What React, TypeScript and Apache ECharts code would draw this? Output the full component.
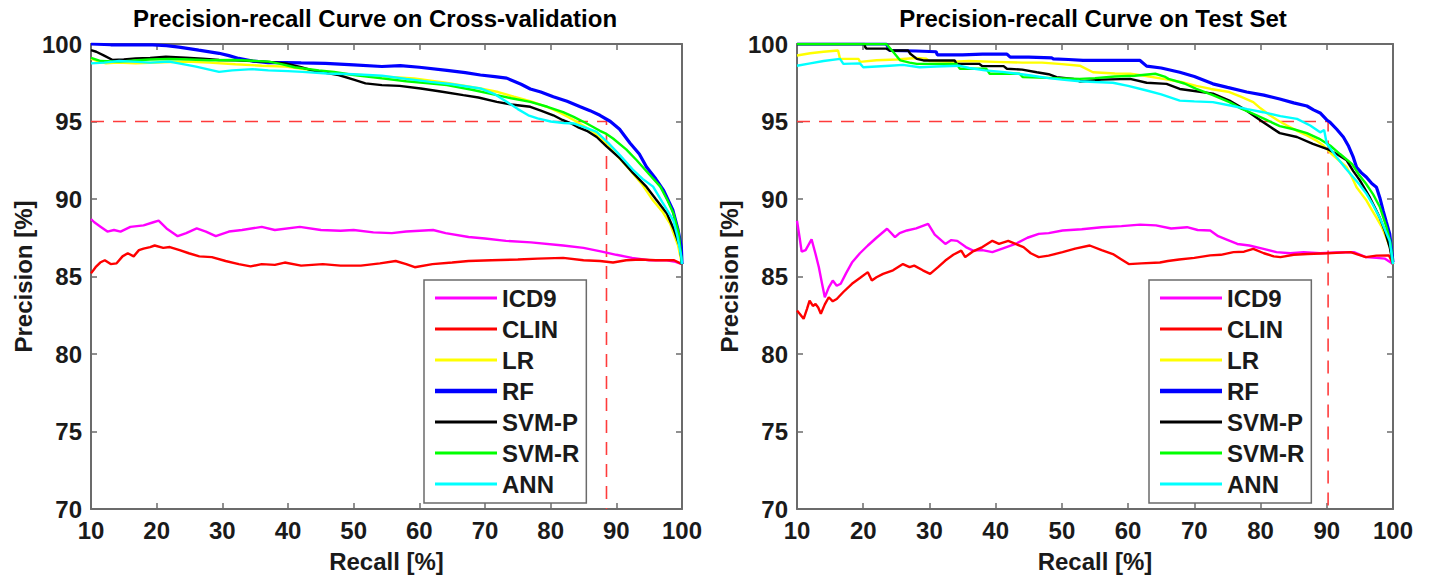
import React, { useEffect, useRef } from "react";
import * as echarts from "echarts";

// ---------- DATA ----------
const seriesNames = ["ICD9", "CLIN", "LR", "RF", "SVM-P", "SVM-R", "ANN"];
const seriesColors = ["#ff00ff", "#ff0000", "#ffff00", "#0000ff", "#000000", "#00ff00", "#00ffff"];
const xTicks = { min: 10, max: 100, interval: 10 };
const yTicks = { min: 70, max: 100, interval: 5 };

// Cross-validation curves: [recall %, precision %]
const cvICD9 = [[10,88.7],[10.5,88.5],[11.5,88.2],[12.5,87.9],[13.5,88.0],[14.5,87.9],[16,88.2],[18,88.3],[19.5,88.5],[20.3,88.6],[21.5,88.1],[23.2,87.6],[24.5,87.8],[26.1,88.1],[27.5,87.9],[29,87.6],[31,87.9],[33,88.0],[36,88.2],[38,88.0],[41.8,88.2],[45,88.0],[48,87.95],[50,88.0],[53,87.85],[55.8,87.8],[58,87.9],[62.1,88.0],[64,87.8],[67.5,87.55],[70,87.45],[73.2,87.3],[77,87.2],[81.9,87.0],[85,86.85],[87.8,86.6],[90,86.4],[92.4,86.2],[95,86.05],[97.7,86.05],[99,85.95],[100,85.8]];
const cvCLIN = [[10,85.2],[10.7,85.6],[11.4,85.9],[12.1,86.05],[13,85.8],[13.9,85.85],[14.8,86.3],[15.6,86.5],[16.5,86.3],[17.3,86.7],[18,86.8],[19,86.9],[19.7,87.0],[21,86.85],[22,86.9],[23.5,86.7],[24.9,86.5],[26.5,86.3],[28.4,86.25],[30.5,86.0],[32.5,85.8],[34.3,85.65],[36,85.8],[38,85.75],[39.5,85.9],[42,85.7],[45.3,85.8],[48,85.7],[51.1,85.7],[54,85.85],[56.4,86.0],[58,85.8],[59.3,85.6],[62,85.8],[65,85.9],[67.5,86.0],[71,86.05],[75,86.1],[78,86.15],[81.9,86.2],[85,86.05],[87.5,86.0],[89.5,85.9],[91.5,86.05],[93.6,86.1],[96,86.05],[98.8,86.05],[100,85.8]];
const cvLR = [[10,99.05],[11,98.9],[12.3,98.75],[14,98.8],[16.8,98.75],[20,98.8],[24.4,98.86],[28,98.8],[32,98.69],[36,98.6],[39.6,98.54],[43,98.35],[47.2,98.1],[51,98.0],[54.3,97.9],[59.2,97.78],[64,97.5],[69.3,97.13],[72,96.9],[74.4,96.6],[77,96.3],[79.4,95.95],[81.5,95.55],[83.5,95.1],[86.5,94.33],[89.1,93.26],[92.1,91.86],[94,90.9],[95.6,89.9],[97,89.2],[98.2,88.4],[99.4,87.0],[100,85.8]];
const cvRF = [[10,100],[13,99.95],[16,99.95],[19.4,99.94],[21.5,99.9],[23.4,99.8],[26.4,99.6],[29.5,99.4],[31,99.25],[32.5,99.07],[34.6,98.9],[37,98.8],[39.6,98.8],[42,98.78],[45.7,98.75],[50,98.65],[54.3,98.55],[57.1,98.6],[60,98.5],[64.2,98.3],[67,98.15],[69.3,98.0],[71.5,97.9],[73.3,97.8],[75.5,97.4],[76.9,97.1],[78.5,96.9],[80.4,96.6],[82.5,96.3],[84.5,95.95],[86,95.7],[87.5,95.4],[89.1,95.0],[90.5,94.5],[92.1,93.6],[93.5,92.9],[94.6,92.07],[96,91.3],[97.2,90.56],[98.6,89.3],[99.4,88.0],[99.9,86.9],[100,85.8]];
const cvSVMP = [[10,99.6],[10.8,99.5],[12,99.25],[13.3,98.97],[15,99.0],[16.8,99.07],[19,99.1],[21.4,99.18],[24.4,99.12],[27,99.05],[29.5,98.97],[32,98.95],[34.6,98.9],[37,98.85],[39.6,98.75],[42,98.5],[43.7,98.3],[45.5,98.15],[47.7,98.0],[50,97.7],[51.8,97.46],[54.3,97.35],[57,97.3],[60.2,97.13],[63,96.95],[66.7,96.7],[69,96.55],[71.8,96.27],[74,96.1],[76.9,95.95],[78.5,95.7],[80.4,95.4],[81.8,95.1],[83,94.9],[84.3,94.6],[85.5,94.4],[87,94.0],[88.5,93.4],[90.6,92.6],[92.5,91.7],[94.6,90.78],[96,90.0],[97.7,89.06],[98.8,88.0],[99.7,86.9],[100,85.8]];
const cvSVMR = [[10,99.1],[11.5,98.9],[14.3,98.86],[17,98.95],[19,99.0],[21.9,99.03],[25,99.0],[28,98.95],[32,98.97],[34.5,98.92],[37.1,98.86],[39,98.7],[41,98.5],[44.7,98.3],[47,98.2],[50,98.0],[54.3,97.78],[58,97.6],[61,97.48],[64.2,97.35],[68,97.05],[71.8,96.7],[74,96.5],[76.9,96.27],[79.5,95.95],[81.9,95.6],[83.5,95.3],[85.5,94.87],[87.5,94.4],[88.5,94.2],[89.5,93.9],[91.5,93.2],[93.1,92.5],[95,91.6],[96.7,90.8],[97.8,89.9],[98.7,89.06],[99.5,87.8],[100,85.8]];
const cvANN = [[10,98.75],[12,98.8],[14.3,98.9],[17,98.85],[19,98.8],[21.9,98.86],[24,98.7],[26,98.54],[28,98.35],[29.5,98.2],[31.5,98.3],[34.6,98.38],[37,98.3],[40,98.25],[42.2,98.2],[46,98.1],[50,98.05],[54.3,97.95],[58,97.75],[61.7,97.56],[65,97.4],[69.3,97.13],[71.3,96.8],[73.3,96.27],[75,95.8],[76.6,95.4],[78,95.2],[80,95.0],[82,94.9],[83.6,94.87],[85.3,94.6],[87,94.33],[88.8,93.6],[90.6,92.8],[92.5,91.9],[94,91.3],[95.6,90.8],[97,89.8],[98.7,88.6],[99.3,87.6],[99.9,86.25],[100,85.8]];
const cvCutoff = [[10,95],[88.5,95],[88.5,70]];

// Test-set curves: [recall %, precision %]
const tsICD9 = [[10,88.6],[10.4,87.5],[10.7,86.6],[11.3,86.7],[12.2,87.4],[12.8,86.45],[13.3,85.6],[13.8,84.5],[14.2,83.66],[14.8,84.3],[15.4,84.74],[16,84.4],[16.6,84.53],[17.4,85.2],[18.3,85.9],[19.5,86.5],[20.7,87.0],[22,87.5],[23.6,88.08],[24.8,87.54],[25.5,87.8],[26.6,87.97],[28,88.1],[29.2,88.3],[29.8,88.4],[30.8,87.7],[32.4,87.1],[33.3,87.35],[34.2,87.3],[35.5,86.9],[36.6,86.67],[38,86.7],[39.5,86.57],[41,86.8],[43,87.1],[44.8,87.5],[46.5,87.75],[48,87.8],[50.1,87.97],[53,88.05],[56,88.18],[59,88.25],[61.8,88.35],[64.2,88.3],[66.5,88.1],[68.9,88.18],[70.5,88.0],[72.4,87.97],[73.6,87.6],[74.8,87.4],[76.5,87.1],[78.3,87.0],[80.3,86.8],[82.4,86.57],[84.5,86.5],[86.5,86.57],[89,86.5],[91.5,86.55],[94.1,86.57],[95.9,86.25],[97.5,86.2],[98.8,86.15],[100,85.8]];
const tsCLIN = [[10,82.8],[10.4,82.6],[11,82.27],[11.5,82.9],[11.9,83.45],[12.4,83.1],[12.8,83.23],[13.2,83.0],[13.6,82.6],[14.2,83.2],[14.8,83.66],[15.4,83.4],[16,83.55],[17,84.0],[18.3,84.53],[19.5,84.9],[20.7,85.28],[21.3,84.74],[22,84.95],[23,85.17],[24.5,85.4],[26,85.8],[27,85.6],[27.7,85.7],[29,85.4],[30.1,85.17],[31.3,85.6],[32.4,86.03],[33.6,86.4],[34.8,86.67],[35.4,86.25],[36.5,86.6],[38,86.9],[39.5,87.3],[40.5,87.1],[41.9,87.3],[43,87.1],[44.2,86.9],[45.3,86.5],[46.5,86.25],[48,86.35],[50.1,86.57],[52,86.8],[54.2,87.0],[56,86.7],[57.7,86.45],[59,86.1],[60.1,85.8],[62,85.85],[64.8,85.9],[66,86.0],[67.7,86.1],[70,86.2],[72.4,86.36],[74,86.4],[75.9,86.57],[77.5,86.6],[78.9,86.78],[80.5,86.5],[82,86.3],[83,86.25],[85,86.4],[87.1,86.45],[90,86.5],[93.6,86.57],[95.9,86.25],[97.5,86.35],[99.4,86.36],[100,85.8]];
const tsLR = [[10,99.26],[12,99.4],[14,99.5],[16.2,99.58],[16.5,99.04],[19.3,99.04],[19.5,98.85],[22,98.95],[25,99.0],[28,99.1],[29.5,99.05],[30,98.9],[33,98.85],[36,98.9],[40,98.85],[44,98.8],[47,98.8],[50,98.7],[52.7,98.6],[54.7,98.18],[58,98.1],[60.3,98.08],[62.5,97.95],[65.3,97.75],[68,97.55],[70.3,97.3],[72.5,97.1],[75.3,96.9],[77,96.6],[78.9,96.25],[80,95.85],[81.4,95.4],[82.7,95.05],[84,94.74],[85.5,94.4],[87,94.1],[88.3,93.8],[89.5,93.45],[90.5,93.0],[91.8,92.5],[93,92.05],[93.8,91.4],[94.5,90.76],[95.3,90.3],[96,89.9],[96.8,89.3],[97.5,88.8],[98.3,88.2],[99,87.5],[99.6,86.8],[100,85.8]];
const tsRF = [[10,100],[23.5,100],[24,99.58],[28,99.55],[31,99.5],[31.2,99.3],[35,99.3],[38,99.35],[41.7,99.35],[42.2,99.15],[45,99.15],[48.5,99.1],[48.7,99.04],[51,99.0],[53.2,98.94],[57,98.94],[61.8,98.94],[62.8,98.57],[65,98.45],[67.8,98.18],[70,97.9],[72.8,97.43],[75,97.2],[77.9,96.9],[80.5,96.7],[82.9,96.45],[85,96.2],[87,96.0],[88,95.75],[89,95.55],[90,95.1],[90.5,94.95],[91.5,94.5],[92.5,94.0],[93.3,93.4],[94,92.7],[94.5,92.05],[95.2,91.7],[96,91.4],[96.8,91.0],[97.5,90.76],[98,90.1],[98.5,89.26],[99,88.5],[99.5,87.75],[100,85.9]];
const tsSVMP = [[10,100],[20.2,100],[20.3,99.8],[20.5,99.7],[23.5,99.7],[24,99.58],[26.8,99.58],[27.1,99.37],[28.1,99.04],[29.1,98.94],[33.8,98.94],[34.1,98.72],[37.5,98.72],[38,98.57],[41.2,98.57],[41.7,98.4],[44,98.35],[46.2,98.18],[48,98.05],[49.2,97.86],[51.7,97.75],[52.7,97.58],[56,97.7],[60.3,97.75],[62.8,97.5],[65.8,97.43],[67.8,97.1],[70.3,96.95],[72.8,96.8],[75.3,96.35],[77.9,95.7],[80.4,94.95],[82.9,94.25],[85.5,94.0],[87.9,93.56],[90,93.24],[91.5,92.9],[93,92.5],[94,91.8],[95,91.2],[96.5,90.1],[97.2,89.5],[98,88.8],[98.8,87.9],[99.5,86.9],[100,85.8]];
const tsSVMR = [[10,100],[23.5,100],[24.5,99.5],[25.6,98.94],[27,98.8],[28.1,98.72],[34.1,98.72],[34.6,98.4],[38.6,98.4],[39.1,98.08],[43.6,98.08],[44.1,97.86],[52.7,97.75],[55,97.8],[58,97.9],[61,97.95],[64.1,98.08],[65.5,97.9],[66.1,97.75],[68.5,97.45],[70.3,97.1],[72.8,96.7],[75.3,96.25],[77,95.85],[78.9,95.5],[80.9,95.1],[82.9,94.7],[85,94.5],[87,94.25],[88.8,93.9],[90.5,93.45],[92,92.9],[93.8,92.27],[94.8,91.6],[95.9,91.0],[97,90.3],[98,89.5],[99,88.2],[99.6,87.2],[100,85.8]];
const tsANN = [[10,98.6],[12,98.75],[14,98.9],[16.5,99.04],[17,98.72],[19.5,98.75],[20,98.5],[22,98.55],[24,98.6],[26,98.65],[28.5,98.5],[31,98.55],[34.5,98.6],[36,98.45],[38.4,98.3],[41,98.2],[43,98.1],[45.3,97.97],[48,97.8],[50,97.7],[52.7,97.6],[55,97.55],[57.7,97.5],[60,97.3],[62.8,97.0],[65,96.75],[67.8,96.35],[70,96.3],[72.8,96.25],[75.8,96.0],[78,95.8],[80.4,95.6],[83,95.35],[85.5,95.17],[87.5,94.74],[89,94.3],[89.6,94.45],[90,93.56],[91.5,92.7],[92.8,92.0],[94,91.4],[95,90.9],[96,90.33],[97,89.6],[98,88.8],[99,87.8],[99.5,87.3],[100,85.8]];
const tsCutoff = [[10,95],[90.2,95],[90.2,70]];

const cvData = [cvICD9, cvCLIN, cvLR, cvRF, cvSVMP, cvSVMR, cvANN];
const tsData = [tsICD9, tsCLIN, tsLR, tsRF, tsSVMP, tsSVMR, tsANN];
const titles = ["Precision-recall Curve on Cross-validation", "Precision-recall Curve on Test Set"];
const xName = "Recall [%]";
const yName = "Precision [%]";

// ---------- STYLE ----------
const FONT = '"Liberation Sans", Arial, Helvetica, sans-serif';
const AXIS_COLOR = "#6b6b6b";
const TEXT_COLOR = "#1a1a1a";
const grids = [
  { left: 91, top: 44, width: 591, height: 465 },
  { left: 797, top: 44, width: 596, height: 465 },
];
const titleX = [375, 1093];
const legendLeft = [424, 1149];

export default function App() {
  const ref = useRef<HTMLDivElement>(null);

  useEffect(() => {
    document.body.style.margin = "0";
    if (!ref.current) return;
    const chart = echarts.init(ref.current, undefined, { renderer: "svg" });

    const axisLine = { show: true, onZero: false, lineStyle: { color: AXIS_COLOR, width: 2 } };
    const axisTick = { show: true, inside: true, length: 6, lineStyle: { color: AXIS_COLOR, width: 1.5 } };
    const labelStyle = { fontFamily: FONT, fontWeight: "bold" as const, fontSize: 24, color: TEXT_COLOR };

    const xAxis: any[] = [];
    const yAxis: any[] = [];
    grids.forEach((_, gi) => {
      xAxis.push({
        gridIndex: gi, type: "value", position: "bottom", ...xTicks,
        axisLine, axisTick, splitLine: { show: false },
        axisLabel: { ...labelStyle, margin: 9 },
        name: xName, nameLocation: "middle", nameGap: 40,
        nameTextStyle: { ...labelStyle },
      });
      xAxis.push({
        gridIndex: gi, type: "value", position: "top", ...xTicks,
        axisLine, axisTick, splitLine: { show: false }, axisLabel: { show: false },
      });
      yAxis.push({
        gridIndex: gi, type: "value", position: "left", ...yTicks,
        axisLine, axisTick, splitLine: { show: false },
        axisLabel: { ...labelStyle, margin: 9 },
        name: yName, nameLocation: "middle", nameGap: 56,
        nameTextStyle: { ...labelStyle },
      });
      yAxis.push({
        gridIndex: gi, type: "value", position: "right", ...yTicks,
        axisLine, axisTick, splitLine: { show: false }, axisLabel: { show: false },
      });
    });

    const series: any[] = [];
    [cvData, tsData].forEach((set, gi) => {
      set.forEach((d, si) => {
        series.push({
          name: seriesNames[si],
          type: "line",
          xAxisIndex: gi * 2,
          yAxisIndex: gi * 2,
          data: d,
          symbol: "none",
          showSymbol: false,
          lineStyle: { color: seriesColors[si], width: seriesNames[si] === "RF" ? 3.2 : 2.4 },
          itemStyle: { color: seriesColors[si] },
          z: 3 + si,
        });
      });
      series.push({
        name: "cutoff",
        type: "line",
        xAxisIndex: gi * 2,
        yAxisIndex: gi * 2,
        data: gi === 0 ? cvCutoff : tsCutoff,
        symbol: "none",
        lineStyle: { color: "#ff3b3b", width: 1.6, type: [13, 9] },
        itemStyle: { color: "#ff3b3b" },
        z: 2,
      });
    });

    const legendData = seriesNames.map((n) => ({
      name: n,
      icon: n === "RF" ? "path://M0 0H62V4.5H0Z" : "path://M0 0H62V3H0Z",
    }));

    chart.setOption({
      animation: false,
      backgroundColor: "#ffffff",
      grid: grids.map((g) => ({ ...g, containLabel: false })),
      xAxis,
      yAxis,
      legend: legendLeft.map((l) => ({
        left: l,
        top: 280,
        orient: "vertical",
        data: legendData,
        selectedMode: false,
        itemWidth: 62,
        itemHeight: 14,
        itemGap: 7,
        padding: [6, 7, 7, 11],
        borderColor: AXIS_COLOR,
        borderWidth: 1.5,
        backgroundColor: "#ffffff",
        textStyle: { ...labelStyle, padding: [0, 0, 0, 0] },
      })),
      graphic: titles.map((t, i) => ({
        type: "text",
        x: titleX[i],
        y: 18,
        style: {
          text: t,
          fontFamily: FONT,
          fontWeight: "bold",
          fontSize: 24,
          fill: "#000",
          align: "center",
          verticalAlign: "middle",
        },
      })),
      series,
    });

    return () => chart.dispose();
  }, []);

  return <div ref={ref} style={{ width: 1429, height: 579 }} />;
}
